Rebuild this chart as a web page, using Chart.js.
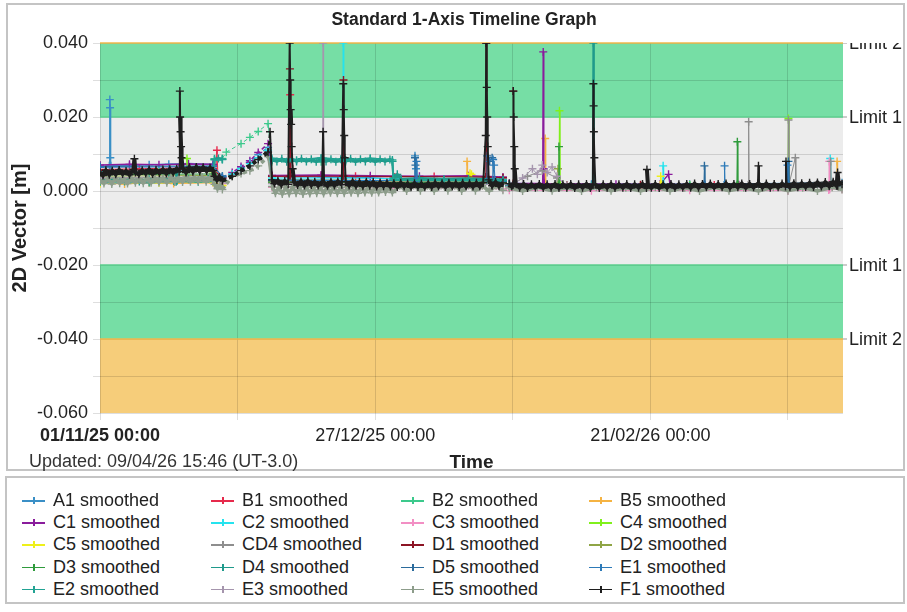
<!DOCTYPE html>
<html>
<head>
<meta charset="utf-8">
<script src="https://cdn.jsdelivr.net/npm/chart.js@4.4.1/dist/chart.umd.min.js"></script>
<style>
  body { margin: 0; background: #fff; font-family: "Liberation Sans", Arial, sans-serif; }
  #page { position: relative; width: 907px; height: 612px; overflow: hidden; }
  #frame { position: absolute; left: 6px; top: 3px; width: 899px; height: 468px; border: 2px solid #c4c4c4; box-sizing: border-box; }
  #chartBox { position: absolute; left: 0; top: 0; width: 907px; height: 470px; }
  #title { position: absolute; left: 0; top: 9px; width: 928px; text-align: center; font-weight: bold; font-size: 17.5px; color: #222; }
  #updated { position: absolute; left: 29px; top: 451px; font-size: 18px; line-height: 20px; color: #333; }
  #legendBox { position: absolute; left: 5px; top: 476px; width: 900px; height: 128px; border: 2px solid #c4c4c4; box-sizing: border-box; }
  .item { position: absolute; font-size: 18px; line-height: 20px; color: #222; white-space: nowrap; }
  .mark { position: absolute; left: 0; top: 10px; width: 23px; height: 1.5px; }
  .tick { position: absolute; left: 11px; top: 7px; width: 1.5px; height: 7px; }
</style>
</head>
<body>
<div id="page">
  <div id="frame"></div>
  <div id="chartBox"><canvas id="chart"></canvas></div>
  <div id="title">Standard 1-Axis Timeline Graph</div>
  <div id="updated">Updated: 09/04/26 15:46 (UT-3.0)</div>
  <div id="legendBox"></div>
  <div id="legend"></div>
</div>
<script>
// x = days since 01/11/25 00:00, y = 2D vector [m]
const xTickDays = [0, 56, 112];
const xTickLabels = ['01/11/25 00:00', '27/12/25 00:00', '21/02/26 00:00'];
const limitValues = [0.04, 0.02, -0.02, -0.04];
const limitNames = ['Limit 2', 'Limit 1', 'Limit 1', 'Limit 2'];

const seriesNames = ['A1', 'B1', 'B2', 'B5', 'C1', 'C2', 'C3', 'C4', 'C5', 'CD4', 'D1', 'D2',
  'D3', 'D4', 'D5', 'E1', 'E2', 'E3', 'E5', 'F1'];
const seriesColors = ['#3a8fc6', '#e62a4c', '#3cc98c', '#f5b342', '#8a1c9c', '#25e3ee', '#f28fc4', '#80f01c',
  '#eef01a', '#8e8e8e', '#8c1424', '#8fa546', '#2f9b3c', '#1f9a8b', '#2b6b9c', '#2d7ab8',
  '#22a393', '#a595ad', '#8d9d8b', '#1e1e1e'];

const A1 = [[0,.0066],[1.9,.0068],[2.0,.0247],[2.05,.0225],[2.1,.0090],[2.2,.0068],[6,.0069],[10,.0071],[14,.0072],[18,.0074],[23,.0072],
  [23.4,.0045],[24.9,.0040],[26.9,.0045],[28.7,.0062],[30.5,.0078],[32.2,.0098],[34.2,.0118],[35,.0040],[45,.0038],[55,.0036],
  [64,.0030],[64.1,.0095],[64.3,.0060],[64.5,.0030],[75,.0030],[82,.0028],[82.6,null],[83.3,.0020],[100,.0018],[120,.0018],[140,.0020],[151,.0022]];
const B1 = [[0,.0058],[8,.0060],[16,.0062],[23,.0060],[23.5,.0042],[23.8,.0110],[24.0,.0040],[24.9,.0035],[25.5,null],[35,.0040],
  [38.6,.0038],[38.7,.0260],[38.8,.0038],[45,.0041],[52,.0040],[60,.0038],[68,.0039],[75,.0038],[82,.0035],[82.6,null],
  [83.3,.0018],[95,.0016],[110,.0015],[125,.0016],[140,.0016],[151,.0020]];
const B2 = [[0,.0030],[8,.0032],[16,.0031],[23,.0033],[23.3,.0087],[24.9,.0088],[25.7,.0105],[28.7,.0128],[30.5,.0145],[32.2,.0161],
  [34.2,.0182],[35,.0080],[45,.0079],[59.5,.0080],[59.7,.0030],[70,.0028],[82,.0027],[82.6,null],[83.3,.0015],[100,.0013],[120,.0014],[151,.0016]];
const B5 = [[0,.0021],[5,.0019],[10,.0022],[15,.0020],[23,.0022],[24.9,.0015],[25.5,null],[35,.0022],[50,.0021],[65,.0020],
  [74.6,.0022],[74.7,.0080],[74.8,.0022],[82,.0020],[82.6,null],[83.3,.0014],[90.5,.0015],[90.6,.0142],[90.7,.0015],[110,.0013],
  [130,.0014],[149.9,.0015],[150,.0080],[150.1,.0018],[151,.0018]];
const C1 = [[0,.0070],[6,.0072],[12,.0071],[18,.0073],[23,.0072],[23.3,.0042],[24.9,.0035],[26.9,.0050],[28.7,.0066],[30.5,.0082],
  [32.2,.0104],[34.2,.0128],[35,.0042],[45,.0043],[55,.0041],[65,.0040],[75,.0041],[82,.0038],[82.6,null],[83.3,.0020],
  [90.1,.0020],[90.2,.0376],[90.3,.0060],[90.4,.0020],[105,.0018],[114,.0019],[115.7,.0045],[116,.0018],[130,.0017],[151,.0019]];
const C2 = [[0,.0052],[12,.0054],[23,.0056],[24.9,.0030],[26.9,.0046],[28.7,.0060],[30.5,.0074],[32.2,.0090],[34.2,.0110],[35,.0035],
  [49.4,.0035],[49.5,.0400],[49.6,.0035],[65,.0033],[82,.0032],[82.6,null],[83.3,.0016],[114.5,.0017],[114.6,.0068],[114.7,.0017],
  [148.5,.0018],[148.6,.0088],[148.7,.0020],[151,.0020]];
const C3 = [[0,.0030],[12,.0032],[23,.0034],[24.9,.0020],[25.5,null],[35,.0010],[60,.0008],[82,.0006],[82.6,null],[83.3,.0002],
  [100,.0001],[120,.0002],[140,.0001],[148.3,.0003],[148.4,.0080],[148.5,.0005],[151,.0005]];
const C4 = [[0,.0048],[12,.0050],[17.6,.0052],[17.7,.0088],[17.8,.0055],[23,.0052],[24.9,.0028],[25.5,null],[35,.0030],[60,.0028],
  [82,.0027],[82.6,null],[83.3,.0016],[93.4,.0018],[93.5,.0217],[93.6,.0018],[120,.0016],[140,.0018],[140.1,.0196],[140.2,.0018],[151,.0018]];
const C5 = [[0,.0020],[12,.0022],[23,.0024],[24.9,.0015],[25.5,null],[35,.0025],[75.2,.0026],[75.3,.0048],[75.6,.0045],[75.8,.0026],
  [82,.0024],[82.6,null],[83.3,.0015],[114,.0016],[114.1,.0040],[114.3,.0016],[151,.0016]];
const CD4 = [[0,.0050],[23,.0054],[24.9,.0030],[25.5,null],[35,.0026],[82,.0024],[82.6,null],[83.3,.0016],[87,.0040],[90,.0055],
  [93,.0035],[95,.0016],[131.9,.0016],[132,.0187],[132.1,.0016],[140,.0017],[140.1,.0192],[140.2,.0017],[141.5,.0090],[141.6,.0017],
  [148.6,.0017],[148.7,.0080],[148.8,.0017],[151,.0018]];
const D1 = [[0,.0056],[23,.0058],[24.9,.0035],[25.5,null],[35,.0040],[38.6,.0040],[38.65,.0330],[38.7,.0040],[49.5,.0040],[49.55,.0300],
  [49.6,.0040],[78.5,.0038],[78.6,.0400],[78.7,.0038],[82,.0036],[82.6,null],[83.3,.0018],[84.05,.0020],[84.1,.0270],[84.2,.0018],
  [110,.0017],[151,.0018]];
const D2 = [[0,.0040],[23,.0042],[24.9,.0025],[25.5,null],[35,.0022],[82,.0020],[82.6,null],[83.3,.0012],[93,.0013],[93.2,.0060],
  [93.4,.0013],[151,.0013]];
const D3 = [[0,.0044],[23,.0046],[24.9,.0028],[25.5,null],[35,.0024],[82,.0022],[82.6,null],[83.3,.0014],[93.3,.0015],[93.4,.0120],
  [93.5,.0015],[129.6,.0015],[129.7,.0133],[129.8,.0015],[151,.0016]];
const D4 = [[0,.0028],[2,.0032],[4,.0027],[6,.0031],[8,.0026],[10,.0032],[12,.0028],[14,.0033],[15.5,.0025],[15.6,.0050],[15.7,.0028],
  [18,.0032],[20,.0030],[22,.0033],[23,.0032],[23.3,.0086],[24.1,.0088],[24.9,.0086],[25.5,null],[35,.0084],[36,.0080],[37,.0087],
  [38,.0079],[39,.0086],[40,.0080],[41,.0087],[42,.0080],[43,.0086],[44,.0079],[45,.0087],[46,.0080],[47,.0086],[48,.0079],
  [49,.0086],[50,.0080],[51,.0087],[52,.0079],[53,.0086],[54,.0080],[55,.0087],[56,.0079],[57,.0086],[58,.0080],[59,.0085],
  [59.5,.0080],[59.7,.0035],[60.5,.0045],[61.3,.0032],[65,.0034],[70,.0032],[75,.0033],[82,.0030],[82.6,null],[83.3,.0014],
  [100.3,.0015],[100.4,.0400],[100.5,.0015],[120,.0014],[151,.0015]];
const D5 = [[0,.0066],[23,.0068],[24.9,.0040],[25.5,null],[35,.0030],[64,.0028],[64.1,.0090],[64.2,.0070],[64.4,.0028],[78.7,.0028],
  [78.8,.0095],[79.3,.0080],[79.8,.0090],[80.3,.0028],[82,.0026],[82.6,null],[83.3,.0016],[122.9,.0017],[123,.0068],[123.1,.0017],
  [140,.0017],[140.1,.0080],[140.2,.0017],[151,.0017]];
const E1 = [[0,.0064],[23,.0066],[24.9,.0038],[25.5,null],[35,.0029],[64.3,.0028],[64.4,.0080],[64.5,.0028],[79.9,.0028],[80,.0085],
  [80.2,.0070],[80.4,.0028],[82,.0027],[82.6,null],[83.3,.0016],[127,.0016],[127.1,.0068],[127.2,.0016],[139.8,.0017],[139.9,.0070],
  [140,.0017],[151,.0017]];
const E2 = [[0,.0024],[5,.0026],[10,.0023],[15,.0027],[20,.0025],[23,.0026],[23.3,.0084],[24.9,.0085],[25.5,null],[35,.0088],
  [40,.0083],[45,.0089],[50,.0084],[55,.0088],[59.5,.0084],[59.7,.0030],[70,.0029],[82,.0028],[82.6,null],[83.3,.0014],[151,.0014]];
const E3 = [[0,.0036],[23,.0038],[24.9,.0022],[25.5,null],[35,.0020],[45.3,.0020],[45.4,.0400],[45.5,.0020],[82,.0018],[82.6,null],
  [83.3,.0012],[86,.0035],[88,.0060],[89,.0045],[90,.0070],[91,.0050],[92,.0065],[93,.0040],[95,.0012],[151,.0010]];
const E5 = [[0,.0030],[0.8,.0020],[1.6,.0034],[2.4,.0019],[3.2,.0035],[4,.0021],[4.8,.0033],[5.6,.0020],[6.4,.0035],[7.2,.0022],
  [8,.0034],[8.8,.0021],[9.6,.0036],[10.4,.0022],[11.2,.0035],[12,.0023],[12.8,.0036],[13.6,.0022],[14.4,.0037],[15.2,.0024],
  [16,.0036],[16.8,.0024],[17.6,.0038],[18.4,.0025],[19.2,.0037],[20,.0026],[20.8,.0038],[21.6,.0025],[22.4,.0037],[23,.0028],
  [23.3,.0018],[23.9,.0006],[24.4,.0016],[24.9,.0004],[26.9,.0040],[28.7,.0047],[30.5,.0055],[32.2,.0068],[34.2,.0093],
  [35,.0012],[35.7,-.0006],[36.4,.0010],[37.1,-.0008],[37.8,.0011],[38.5,-.0007],[39.2,.0012],[39.9,-.0006],[40.6,.0010],
  [41.3,-.0008],[42,.0011],[42.7,-.0007],[43.4,.0010],[44.1,-.0006],[44.8,.0011],[45.5,-.0007],[46.2,.0010],[46.9,-.0005],
  [47.6,.0011],[48.3,-.0006],[49,.0010],[49.7,-.0006],[50.4,.0011],[51.1,-.0005],[51.8,.0010],[52.5,-.0006],[53.2,.0011],
  [53.9,-.0004],[54.6,.0012],[55.3,-.0005],[56,.0011],[56.7,-.0004],[57.4,.0012],[58.1,-.0003],[58.8,.0011],[59.5,-.0004],
  [61,.0014],[62.4,.0000],[63.8,.0015],[65.2,.0001],[66.6,.0014],[68,.0000],[69.4,.0015],[70.8,.0001],[72.2,.0014],[73.6,.0000],
  [75,.0015],[76.4,.0001],[77.8,.0014],[79.2,.0000],[80.6,.0014],[82,.0002],[82.6,null],[83.3,.0008],[86,.0000],[89,.0010],
  [92,.0001],[95,.0009],[98,.0000],[101,.0010],[104,.0001],[107,.0009],[110,.0000],[113,.0010],[116,.0001],[119,.0009],
  [122,.0000],[125,.0010],[128,.0001],[131,.0009],[134,.0000],[137,.0010],[140,.0001],[143,.0009],[146,.0000],[149,.0010],[151,.0004]];
const F1 = [[0,.0050],[0.6,.0042],[1.2,.0056],[1.9,.0044],[2.5,.0055],[3.2,.0045],[3.9,.0057],[4.6,.0046],[5.3,.0054],[6,.0044],
  [6.8,.0058],[7.0,.0087],[7.2,.0050],[7.9,.0045],[8.6,.0056],[9.3,.0047],[10,.0058],[10.7,.0046],[11.4,.0057],[12.1,.0048],
  [12.8,.0058],[13.5,.0047],[14.2,.0059],[14.9,.0049],[15.6,.0060],[16.1,.0052],[16.25,.0270],[16.3,.0200],[16.4,.0160],
  [16.5,.0120],[16.6,.0090],[16.8,.0062],[17.5,.0050],[18.2,.0064],[18.9,.0052],[19.6,.0065],[20.3,.0053],[21,.0064],[21.7,.0054],
  [22.4,.0063],[23,.0055],[23.3,.0040],[23.8,.0030],[24.3,.0038],[24.9,.0028],[26.9,.0040],[28.7,.0055],[30.5,.0068],[32.2,.0085],
  [34.2,.0105],[34.6,.0160],[35.0,.0030],[35.5,.0020],[36.2,.0028],[36.9,.0017],[37.6,.0027],[38.3,.0018],[38.6,.0400],[38.7,.0300],
  [38.8,.0220],[38.9,.0180],[39.0,.0120],[39.2,.0060],[39.5,.0024],[40.2,.0016],[40.9,.0026],[41.6,.0015],[42.3,.0027],[43,.0016],
  [43.7,.0025],[44.4,.0015],[45.2,.0024],[45.4,.0160],[45.6,.0022],[46.3,.0014],[47,.0025],[47.7,.0015],[48.4,.0026],[49.2,.0017],
  [49.5,.0290],[49.6,.0220],[49.7,.0150],[49.8,.0090],[50,.0025],[50.7,.0015],[51.4,.0026],[52.1,.0014],[52.8,.0024],[53.5,.0013],
  [54.2,.0025],[54.9,.0014],[55.6,.0024],[56.3,.0012],[57,.0023],[57.7,.0013],[58.4,.0022],[59.1,.0012],[59.8,.0021],[60.5,.0011],
  [61.2,.0022],[61.9,.0012],[62.6,.0020],[63.3,.0010],[64,.0021],[64.7,.0011],[65.4,.0020],[66.1,.0010],[66.8,.0021],[67.5,.0011],
  [68.2,.0022],[68.9,.0012],[69.6,.0021],[70.3,.0011],[71,.0022],[71.7,.0012],[72.4,.0021],[73.1,.0011],[73.8,.0022],[74.5,.0012],
  [75.2,.0021],[75.9,.0012],[76.6,.0022],[77.3,.0012],[78,.0023],[78.5,.0150],[78.6,.0400],[78.7,.0280],[78.8,.0200],[78.9,.0120],
  [79.1,.0030],[79.8,.0014],[80.5,.0024],[81.2,.0013],[82,.0022],[82.6,null],[83.3,.0020],[83.8,.0012],[84.05,.0016],[84.1,.0270],
  [84.2,.0200],[84.3,.0120],[84.4,.0060],[84.6,.0020],[85.4,.0009],[86.2,.0019],[87,.0008],[87.8,.0018],[88.6,.0009],[89.4,.0019],
  [90.2,.0008],[91,.0018],[91.8,.0009],[92.6,.0019],[93.4,.0008],[94.2,.0018],[95,.0009],[95.8,.0019],[96.6,.0008],[97.4,.0018],
  [98.2,.0009],[99,.0019],[99.8,.0008],[100.3,.0018],[100.4,.0290],[100.45,.0230],[100.5,.0160],[100.6,.0090],[100.8,.0018],
  [101.6,.0008],[102.4,.0018],[103.2,.0009],[104,.0019],[104.8,.0008],[105.6,.0018],[106.4,.0009],[107.2,.0019],[108,.0008],
  [108.8,.0018],[109.6,.0009],[110.4,.0019],[111.2,.0008],[111.3,.0058],[111.5,.0018],[112.2,.0009],[113,.0019],[113.8,.0008],
  [114.6,.0018],[115.4,.0009],[116.2,.0019],[117,.0008],[117.8,.0018],[118.6,.0009],[119.4,.0019],[120.2,.0009],[121,.0020],
  [121.8,.0009],[122.6,.0019],[123.4,.0010],[124.2,.0020],[125,.0009],[125.8,.0019],[126.6,.0010],[127.4,.0020],[128.2,.0009],
  [129,.0019],[129.8,.0010],[130.6,.0020],[131.4,.0009],[132.2,.0019],[133,.0010],[133.9,.0020],[134,.0068],[134.1,.0020],
  [134.8,.0010],[135.6,.0020],[136.4,.0009],[137.2,.0019],[138,.0010],[138.8,.0020],[139.5,.0012],[139.6,.0080],[139.7,.0020],
  [140.4,.0010],[141.2,.0021],[142,.0010],[142.8,.0021],[143.6,.0011],[144.4,.0022],[145.2,.0011],[146,.0023],[146.8,.0012],
  [147.6,.0024],[148.4,.0013],[149.2,.0025],[149.9,.0014],[150.1,.0050],[150.3,.0024],[151,.0018]];

const seriesData = [A1, B1, B2, B5, C1, C2, C3, C4, C5, CD4, D1, D2, D3, D4, D5, E1, E2, E3, E5, F1];

const FONT = '"Liberation Sans", Arial, sans-serif';

// the dense series look like thick bands in the original, spikes stay thin
const lineWidths = { F1: 4, E5: 3.5, D4: 3, E2: 2, C1: 1.5, A1: 1.5 };

// legend, 4 columns
const legend = document.getElementById('legend');
const colX = [22, 211, 401, 589];
seriesNames.forEach((name, i) => {
  const div = document.createElement('div');
  div.className = 'item';
  div.style.left = colX[i % 4] + 'px';
  div.style.top = (490 + Math.floor(i / 4) * 22.2) + 'px';
  div.innerHTML = `<span class="mark" style="background:${seriesColors[i]}"></span>` +
    `<span class="tick" style="background:${seriesColors[i]}"></span>` +
    `<span style="margin-left:31px">${name} smoothed</span>`;
  legend.appendChild(div);
});

const bandPlugin = {
  id: 'bands',
  beforeDraw(chart) {
    const {ctx, chartArea: a, scales: {y}} = chart;
    const edges = [-0.06, -0.04, -0.02, 0.02, 0.04];
    const fills = ['#f6cd7a', '#76dea5', '#ececec', '#76dea5'];
    ctx.save();
    for (let i = 0; i < fills.length; i++) {
      const top = y.getPixelForValue(edges[i + 1]);
      const bot = y.getPixelForValue(edges[i]);
      ctx.fillStyle = fills[i];
      ctx.fillRect(a.left, top, a.right - a.left, bot - top);
    }
    ctx.restore();
  },
  beforeDatasetsDraw(chart) {
    const {ctx, chartArea: a, scales: {y}} = chart;
    ctx.save();
    limitValues.forEach((v, i) => {
      const py = y.getPixelForValue(v);
      ctx.strokeStyle = limitNames[i] === 'Limit 2' ? '#f2b94c' : '#5dcf8e';
      ctx.lineWidth = 1.5;
      ctx.beginPath();
      ctx.moveTo(a.left, py);
      ctx.lineTo(a.right, py);
      ctx.stroke();
    });
    ctx.restore();
  },
  afterDraw(chart) {
    const {ctx, chartArea: a, scales: {y}} = chart;
    ctx.save();
    ctx.beginPath();
    ctx.rect(a.right, a.top, 70, a.bottom - a.top);
    ctx.clip();
    ctx.font = '18px ' + FONT;
    ctx.textBaseline = 'middle';
    ctx.fillStyle = '#222';
    limitValues.forEach((v, i) => {
      const py = y.getPixelForValue(v);
      ctx.strokeStyle = '#999';
      ctx.lineWidth = 1;
      ctx.beginPath();
      ctx.moveTo(a.right, py);
      ctx.lineTo(a.right + 4, py);
      ctx.stroke();
      ctx.fillText(limitNames[i], a.right + 6, py + 1);
    });
    ctx.restore();
  }
};

const gridColor = 'rgba(0,0,0,0.13)';

new Chart(document.getElementById('chart'), {
  type: 'line',
  data: {
    datasets: seriesData.map((d, i) => {
      const w = lineWidths[seriesNames[i]] || 1;
      return {
        label: seriesNames[i] + ' smoothed',
        data: d.map(p => ({x: p[0], y: p[1]})),
        borderColor: seriesColors[i],
        backgroundColor: seriesColors[i],
        borderWidth: w,
        pointStyle: 'cross',
        pointRadius: 4,
        pointBorderWidth: 1.4,
        fill: false,
        tension: 0,
        spanGaps: false,
        order: seriesData.length - i,
        segment: {
          borderDash: ctx => (ctx.p0.parsed.x > 24.5 && ctx.p1.parsed.x < 35 ? [4, 3] : undefined),
          borderWidth: ctx => (Math.abs(ctx.p1.parsed.y - ctx.p0.parsed.y) > 0.004 ? Math.min(w, 2) : w)
        }
      };
    })
  },
  options: {
    responsive: true,
    maintainAspectRatio: false,
    animation: false,
    events: [],
    layout: { padding: { left: 0, right: 64, top: 43, bottom: 0 } },
    plugins: { legend: { display: false }, tooltip: { enabled: false }, title: { display: false } },
    scales: {
      x: {
        type: 'linear',
        min: 0,
        max: 151.2,
        afterFit: s => { s.height = 57; },
        grid: { color: gridColor, tickLength: 7 },
        border: { display: false },
        ticks: {
          stepSize: 28,
          includeBounds: false,
          autoSkip: false,
          maxRotation: 0,
          padding: 5,
          color: '#222',
          font: ctx => ({ family: FONT, size: 18, weight: ctx.tick && ctx.tick.value === 0 ? 'bold' : 'normal' }),
          callback: v => {
            const k = xTickDays.indexOf(v);
            return k >= 0 ? xTickLabels[k] : '';
          }
        },
        title: {
          display: true,
          text: 'Time',
          color: '#222',
          font: { family: FONT, size: 19, weight: 'bold', lineHeight: 1 },
          padding: { top: 0, bottom: -2 }
        }
      },
      y: {
        min: -0.06,
        max: 0.04,
        afterFit: s => { s.width = 100; },
        grid: { color: gridColor, tickLength: 7 },
        border: { display: false },
        ticks: {
          stepSize: 0.01,
          padding: 5,
          color: '#222',
          font: { family: FONT, size: 18 },
          callback: v => (Math.round(v * 100) % 2 === 0 ? v.toFixed(3) : '')
        },
        title: {
          display: true,
          text: '2D Vector [m]',
          color: '#222',
          font: { family: FONT, size: 20, weight: 'bold', lineHeight: 1 },
          padding: { top: 10, bottom: 0 }
        }
      }
    }
  },
  plugins: [bandPlugin]
});
</script>
</body>
</html>
